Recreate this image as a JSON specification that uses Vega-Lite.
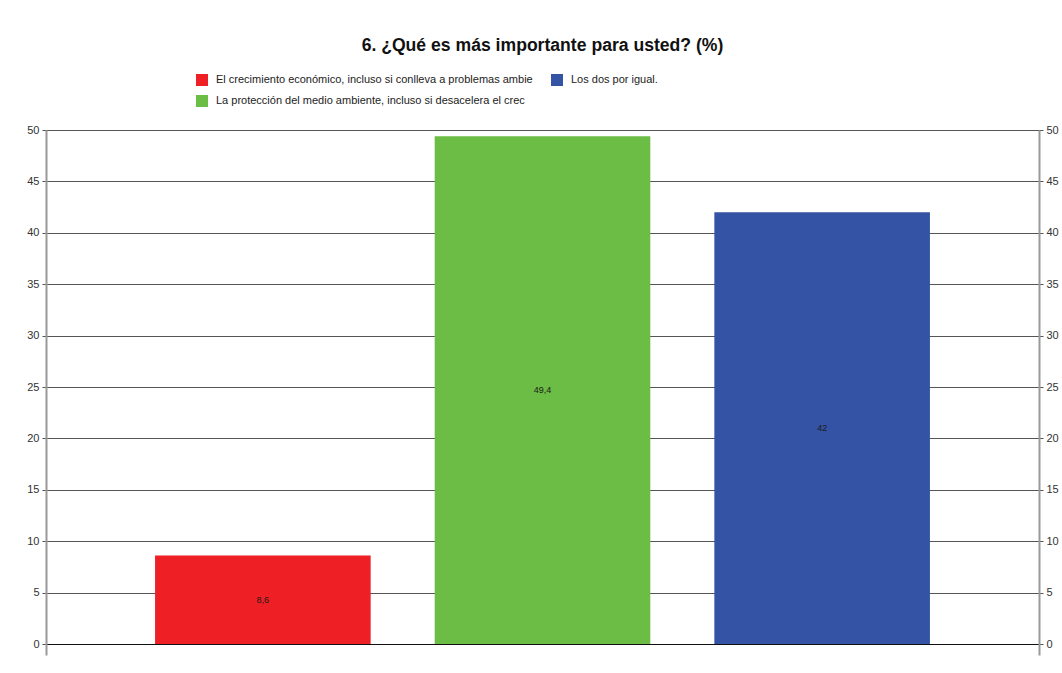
{
  "$schema": "https://vega.github.io/schema/vega-lite/v6.json",
  "autosize": "none",
  "width": 993,
  "height": 525,
  "padding": {"left": 46, "top": 130, "right": 23, "bottom": 18},
  "background": "white",
  "config": {
    "view": {"stroke": null},
    "font": "Liberation Sans",
    "locale": {"number": {"decimal": ",", "thousands": ".", "grouping": [3], "currency": ["", " €"]}}
  },
  "title": {
    "text": "6. ¿Qué es más importante para usted? (%)",
    "fontSize": 17.6,
    "fontWeight": "bold",
    "color": "#111111",
    "anchor": "middle",
    "offset": 19
  },
  "data": {
    "values": [
      {"opcion": "El crecimiento económico, incluso si conlleva a problemas ambie", "pct": 8.6},
      {"opcion": "La protección del medio ambiente, incluso si desacelera el crec", "pct": 49.4},
      {"opcion": "Los dos por igual.", "pct": 42}
    ]
  },
  "encoding": {
    "x": {
      "field": "opcion",
      "type": "nominal",
      "sort": null,
      "axis": null,
      "scale": {"paddingInner": 0.229, "paddingOuter": 0.39}
    }
  },
  "layer": [
    {
      "mark": {"type": "bar"},
      "encoding": {
        "y": {
          "field": "pct",
          "type": "quantitative",
          "scale": {"domain": [-1.07, 50], "nice": false, "zero": false},
          "axis": {
            "orient": "left",
            "values": [0, 5, 10, 15, 20, 25, 30, 35, 40, 45, 50],
            "title": null,
            "domainColor": "#999999",
            "domainWidth": 2,
            "tickColor": "#555555",
            "tickSize": 4,
            "labelPadding": 3,
            "labelFontSize": 11,
            "labelColor": "#333333",
            "grid": true,
            "gridColor": {"condition": {"test": "datum.value === 0", "value": "#111111"}, "value": "#555555"},
            "gridWidth": 1
          }
        },
        "y2": {"datum": 0},
        "color": {
          "field": "opcion",
          "type": "nominal",
          "scale": {
            "domain": [
              "El crecimiento económico, incluso si conlleva a problemas ambie",
              "La protección del medio ambiente, incluso si desacelera el crec",
              "Los dos por igual."
            ],
            "range": ["#ee1f25", "#6cbd45", "#3453a5"]
          },
          "legend": {
            "title": null,
            "orient": "none",
            "legendX": 150,
            "legendY": -56,
            "columns": 2,
            "columnPadding": 18,
            "rowPadding": 9,
            "symbolType": "square",
            "symbolSize": 144,
            "symbolStrokeWidth": 0,
            "labelFontSize": 11,
            "labelColor": "#222222",
            "labelOffset": 8,
            "labelLimit": 400
          }
        }
      }
    },
    {
      "mark": {"type": "bar", "opacity": 0},
      "encoding": {
        "y": {
          "field": "pct",
          "type": "quantitative",
          "scale": {"domain": [-1.07, 50], "nice": false, "zero": false},
          "axis": {
            "orient": "right",
            "values": [0, 5, 10, 15, 20, 25, 30, 35, 40, 45, 50],
            "title": null,
            "domainColor": "#999999",
            "domainWidth": 2,
            "tickColor": "#555555",
            "tickSize": 4,
            "labelPadding": 3,
            "labelFontSize": 11,
            "labelColor": "#333333",
            "grid": false
          }
        },
        "y2": {"datum": 0}
      }
    },
    {
      "mark": {"type": "text", "fontSize": 9, "color": "#1a1a1a", "baseline": "middle"},
      "encoding": {
        "y": {
          "field": "pct",
          "type": "quantitative",
          "scale": {"domain": [-2.14, 100], "nice": false, "zero": false},
          "axis": null
        },
        "text": {"field": "pct", "type": "quantitative", "format": "~g"}
      }
    }
  ],
  "resolve": {"scale": {"y": "independent"}, "axis": {"y": "independent"}}
}
